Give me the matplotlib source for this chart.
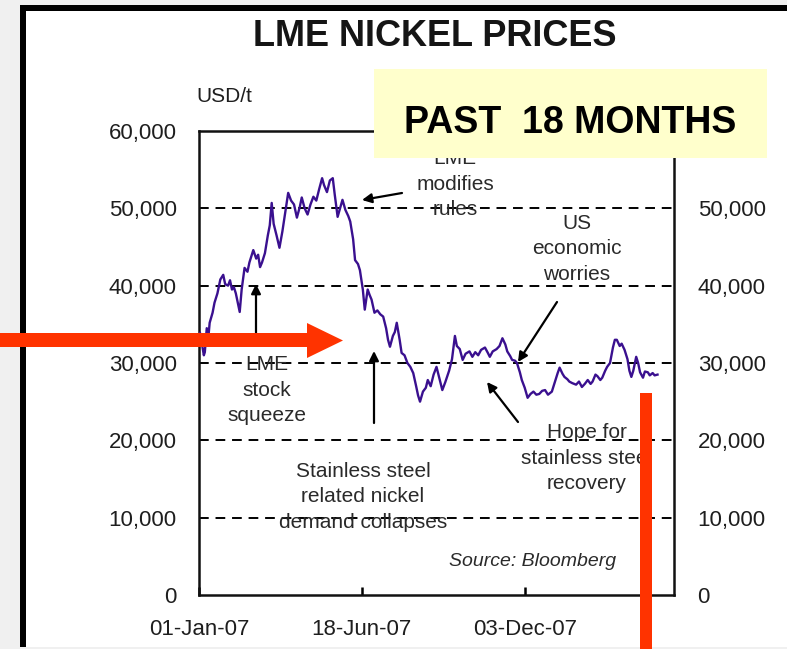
import numpy as np
import matplotlib.pyplot as plt
from matplotlib.patches import Rectangle, Polygon

plt.rcParams['font.family'] = ['Liberation Sans', 'DejaVu Sans']

# --- data (days after 01-Jan-07, USD/t) ---
days = [1, 3, 5, 6, 8, 10, 11, 14, 16, 19,
        22, 25, 27, 30, 32, 34, 36, 38, 40, 42,
        44, 47, 50, 52, 54, 56, 59, 61, 63, 65,
        68, 71, 73, 75, 77, 80, 83, 86, 89, 92,
        95, 98, 101, 104, 106, 109, 112, 115, 118, 121,
        124, 127, 129, 132, 135, 138, 140, 143, 146, 148,
        151, 154, 156, 159, 161, 164, 166, 169, 171, 174,
        176, 178, 181, 184, 187, 190, 193, 195, 197, 200,
        202, 204, 207, 209, 212, 215, 218, 221, 224, 226,
        228, 231, 234, 236, 239, 242, 245, 248, 251, 254,
        258, 261, 264, 266, 269, 272, 275, 279, 282, 285,
        288, 291, 295, 298, 300, 303, 307, 310, 313, 316,
        318, 321, 323, 326, 328, 331, 333, 336, 339, 342,
        345, 348, 351, 354, 357, 360, 364, 367, 370, 372,
        375, 377, 380, 382, 385, 389, 392, 395, 398, 401,
        404, 406, 409, 411, 414, 416, 419, 421, 424, 427,
        429, 431, 434, 436, 439, 442, 444, 446, 448, 451,
        453, 455, 458, 460, 463, 465, 468, 470, 473]
prices = [33900, 32500, 31000, 31400, 34500, 33800, 35200, 36500, 37800, 39000,
          40800, 41400, 40200, 40000, 40700, 39500, 39800, 39000, 37800, 36600,
          39500, 42300, 41800, 43000, 43800, 44600, 43500, 44000, 42400, 43000,
          44200, 46500, 47800, 50700, 48000, 46500, 44900, 47000, 49500, 52000,
          51000, 50500, 48800, 50200, 51400, 50000, 49200, 50500, 51500, 51000,
          52500, 53900, 53000, 52100, 53600, 53900, 51800, 48900, 50200, 51100,
          49800, 49000, 48300, 46000, 43300, 42800, 42000, 39500, 36900, 39500,
          38800, 38200, 36500, 36800, 36300, 36000, 34500, 33000, 32100, 33500,
          34000, 35200, 33000, 31300, 31000, 30000, 29500, 28700, 27000, 25800,
          25000, 26300, 26800, 27800, 27000, 28500, 29500, 28000, 26500, 27500,
          29000, 30500, 33500, 32200, 31800, 30400, 31200, 31500, 30800, 31400,
          31000, 31700, 32000, 31300, 30800, 31500, 31800, 32200, 33200, 32400,
          31500, 30900, 30400, 30300, 30000, 28800, 27800, 26800, 25500, 26000,
          26300, 25900, 26000, 26400, 26500, 25900, 26300, 27500, 28700, 29400,
          28600, 28200, 27900, 27600, 27400, 27200, 27600, 26900, 27300, 27800,
          27300, 27600, 28500, 28300, 27800, 28100, 29000, 29500, 30000, 32000,
          33000, 33000, 32200, 32500, 31700, 30500, 29000, 28200, 29000, 30800,
          30000, 28800, 28100, 28900, 28800, 28400, 28700, 28400, 28500]
start = np.datetime64('2007-01-01')
dates = start + np.array(days)

y_ticks = [0, 10000, 20000, 30000, 40000, 50000, 60000]
x_ticks = ['2007-01-01', '2007-06-18', '2007-12-03']
x_labels = ['01-Jan-07', '18-Jun-07', '03-Dec-07']

W, H = 787, 649
fig = plt.figure(figsize=(W / 100, H / 100), dpi=100)
fig.patch.set_facecolor('#f0f0f0')


def fx(x):
    return x / W


def fy(y):
    return 1 - y / H


def rect(x0, y0, x1, y1, color, z):
    fig.add_artist(Rectangle((fx(x0), fy(y1)), (x1 - x0) / W, (y1 - y0) / H,
                             transform=fig.transFigure, facecolor=color,
                             edgecolor='none', zorder=z))


# slide frame
rect(20, 5, W + 5, 647, 'black', -2)
rect(26, 11, W + 5, 647, 'white', -1)

txt = '#1e1e1e'
ax = fig.add_axes([fx(199), fy(595), (674 - 199) / W, (595 - 131) / H])
ax.plot(dates, prices, color='#3a108f', lw=1.7, zorder=3)
for v in y_ticks[1:-1]:
    ax.axhline(v, color='black', lw=1.4, dashes=(5, 3.5), zorder=2)
ax.set_ylim(0, 60000)
ax.set_xlim(start, np.datetime64('2008-05-05'))
ax.set_yticks(y_ticks)
ax.set_yticklabels([f'{v:,}' for v in y_ticks])
ax.set_xticks([np.datetime64(d) for d in x_ticks])
ax.set_xticklabels(x_labels)
ax.tick_params(axis='y', length=0, pad=16, labelsize=16, labelcolor=txt)
ax.tick_params(axis='x', direction='in', length=6, width=1.8, pad=17,
               labelsize=16, labelcolor=txt)
for s in ax.spines.values():
    s.set_linewidth(1.8)
    s.set_color('#111111')

ax2 = ax.twinx()
ax2.set_ylim(0, 60000)
ax2.set_yticks(y_ticks)
ax2.set_yticklabels([f'{v:,}' for v in y_ticks])
ax2.tick_params(axis='y', length=0, pad=17, labelsize=16, labelcolor=txt)
for s in ax2.spines.values():
    s.set_visible(False)

# titles
fig.text(fx(435), fy(36), 'LME NICKEL PRICES', ha='center', va='center',
         fontsize=26, fontweight='bold', color='#151515')
fig.text(fx(450), fy(79), '(cash)', ha='center', va='center', fontsize=16,
         color=txt, zorder=4)
fig.text(fx(196), fy(97), 'USD/t', ha='left', va='center', fontsize=15,
         color=txt)

# annotations
notes = [
    ('LME\nmodifies\nrules', 455, 184),
    ('US\neconomic\nworries', 577, 249),
    ('LME\nstock\nsqueeze', 267, 390),
    ('Stainless steel\nrelated nickel\ndemand collapses', 363, 497),
    ('Hope for\nstainless steel\nrecovery', 587, 458),
]
for label, x, y in notes:
    fig.text(fx(x), fy(y), label, ha='center', va='center', fontsize=15,
             color='#2a2a2a', linespacing=1.45, zorder=3)

arrows = [
    ((402, 193), (362, 200)),
    ((557, 302), (518, 362)),
    ((256, 337), (256, 284)),
    ((374, 423), (374, 351)),
    ((518, 422), (487, 382)),
]
for (x0, y0), (x1, y1) in arrows:
    ax.annotate('', xy=(fx(x1), fy(y1)), xytext=(fx(x0), fy(y0)),
                xycoords='figure fraction', textcoords='figure fraction',
                arrowprops=dict(arrowstyle='-|>', color='black', lw=1.6,
                                mutation_scale=14, shrinkA=0, shrinkB=0))

fig.text(fx(533), fy(561), 'Source: Bloomberg', ha='center', va='center',
         fontsize=14, style='italic', color='#2a2a2a')

# yellow overlay box (covers the right-hand 60,000 label as in the slide)
rect(374, 69, 767, 158, '#ffffcc', 5)
fig.text(fx(570), fy(123), 'PAST  18 MONTHS', ha='center', va='center',
         fontsize=27, fontweight='bold', color='black', zorder=6)

# red overlay arrows
red = '#ff3300'
fig.add_artist(Polygon([(fx(0), fy(333)), (fx(307), fy(333)), (fx(307), fy(323)),
                        (fx(343), fy(340.5)), (fx(307), fy(358)),
                        (fx(307), fy(347)), (fx(0), fy(347))],
                       closed=True, transform=fig.transFigure,
                       facecolor=red, edgecolor='none', zorder=7))
rect(640, 393, 652, 652, red, 7)

plt.savefig('out.png', dpi=100)
